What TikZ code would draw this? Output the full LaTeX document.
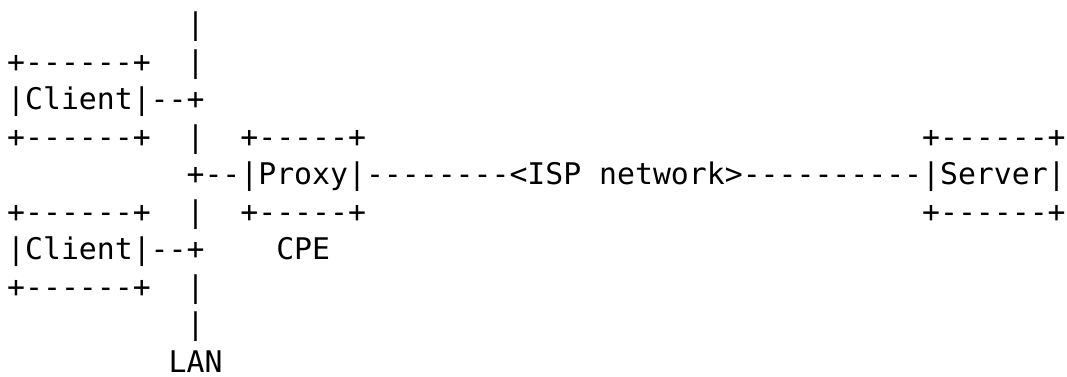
\documentclass[tikz,border=0pt]{standalone}
\usepackage{fontspec}
\setmonofont{DejaVu Sans Mono}
\usepackage{tikz}
\usetikzlibrary{calc}

\tikzset{
  ascii/.style={font=\ttfamily\fontsize{29.8}{37.5}\selectfont, inner sep=0pt, anchor=base west, text=black}
}

\begin{document}
\begin{tikzpicture}[x=1pt,y=1pt]
            % Define the character grid
            \def\cw{17.94}  % width of one character
            \def\lh{37.5}   % height of one line
            \def\xo{7}      % left edge of column 0
            \def\yo{34.5}   % baseline of line 0

            \useasboundingbox (0,-376) rectangle (1067,0);

            % Draw the upper client
            \node[ascii] (clienttopa) at ({\xo+\cw*0}, {-\yo-\lh*1}) {+------+};
            \node[ascii] (clienta)    at ({\xo+\cw*0}, {-\yo-\lh*2}) {|Client|};
            \node[ascii] (linka)      at ({\xo+\cw*8}, {-\yo-\lh*2}) {--+};
            \node[ascii] (clientbota) at ({\xo+\cw*0}, {-\yo-\lh*3}) {+------+};

            % Draw the lower client
            \node[ascii] (clienttopb) at ({\xo+\cw*0}, {-\yo-\lh*5}) {+------+};
            \node[ascii] (clientb)    at ({\xo+\cw*0}, {-\yo-\lh*6}) {|Client|};
            \node[ascii] (linkb)      at ({\xo+\cw*8}, {-\yo-\lh*6}) {--+};
            \node[ascii] (clientbotb) at ({\xo+\cw*0}, {-\yo-\lh*7}) {+------+};

            % Draw the LAN bus
            \node[ascii] (bus0) at ({\xo+\cw*10}, {-\yo-\lh*0}) {|};
            \node[ascii] (bus1) at ({\xo+\cw*10}, {-\yo-\lh*1}) {|};
            \node[ascii] (bus3) at ({\xo+\cw*10}, {-\yo-\lh*3}) {|};
            \node[ascii] (join) at ({\xo+\cw*10}, {-\yo-\lh*4}) {+--};
            \node[ascii] (bus5) at ({\xo+\cw*10}, {-\yo-\lh*5}) {|};
            \node[ascii] (bus7) at ({\xo+\cw*10}, {-\yo-\lh*7}) {|};
            \node[ascii] (bus8) at ({\xo+\cw*10}, {-\yo-\lh*8}) {|};
            \node[ascii] (lan)  at ({\xo+\cw*9},  {-\yo-\lh*9}) {LAN};

            % Draw the proxy
            \node[ascii] (proxytop) at ({\xo+\cw*13}, {-\yo-\lh*3}) {+-----+};
            \node[ascii] (proxy)    at ({\xo+\cw*13}, {-\yo-\lh*4}) {|Proxy|};
            \node[ascii] (proxybot) at ({\xo+\cw*13}, {-\yo-\lh*5}) {+-----+};
            \node[ascii] (cpe)      at ({\xo+\cw*15}, {-\yo-\lh*6}) {CPE};

            % Draw the ISP link
            \node[ascii] (wana) at ({\xo+\cw*20}, {-\yo-\lh*4}) {--------};
            \node[ascii] (isp)  at ({\xo+\cw*28}, {-\yo-\lh*4}) {<ISP network>};
            \node[ascii] (wanb) at ({\xo+\cw*41}, {-\yo-\lh*4}) {----------};

            % Draw the server
            \node[ascii] (servertop) at ({\xo+\cw*51}, {-\yo-\lh*3}) {+------+};
            \node[ascii] (server)    at ({\xo+\cw*51}, {-\yo-\lh*4}) {|Server|};
            \node[ascii] (serverbot) at ({\xo+\cw*51}, {-\yo-\lh*5}) {+------+};

        \end{tikzpicture}
\end{document}
